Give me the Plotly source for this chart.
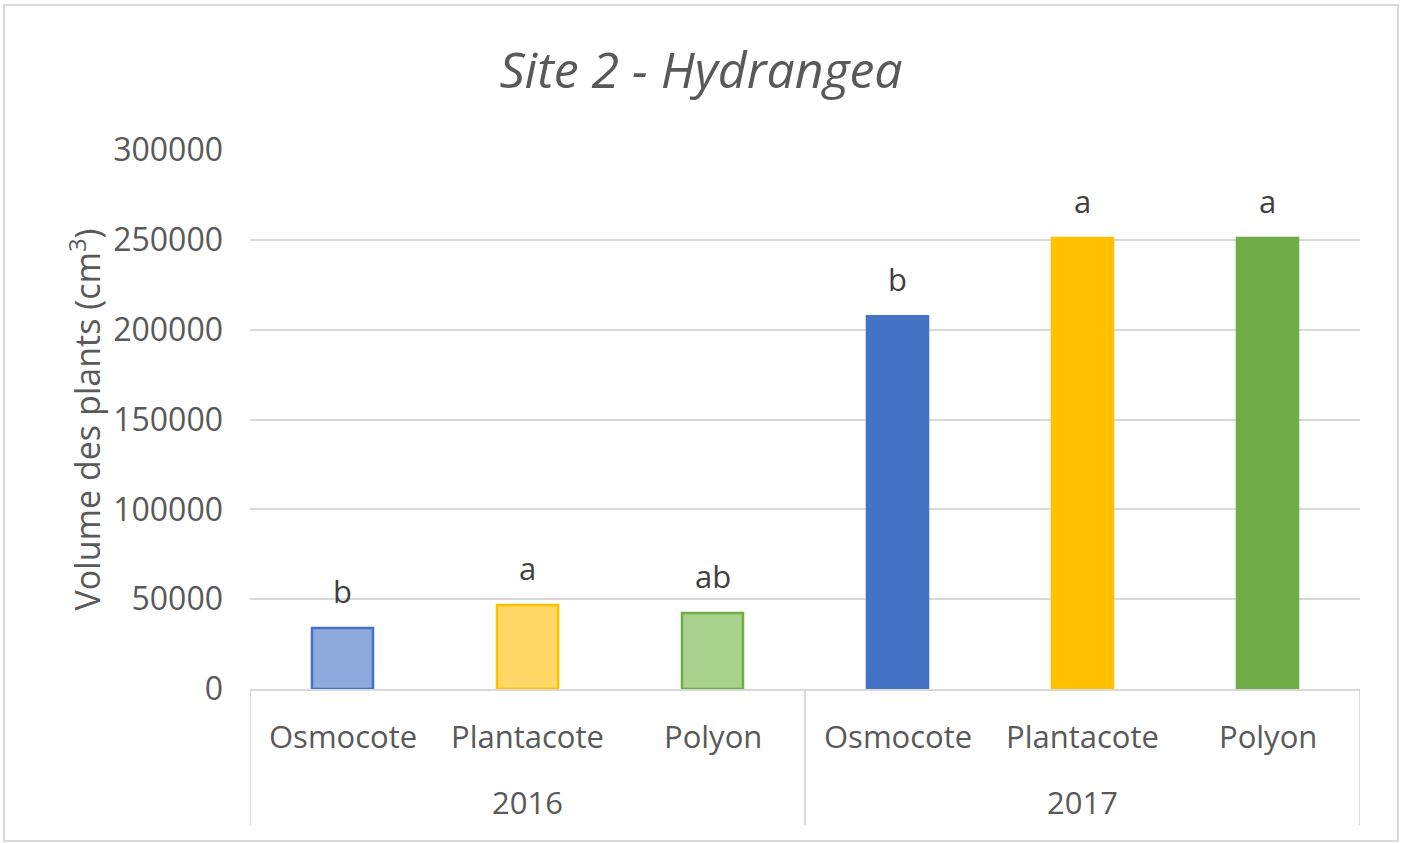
"""Site 2 - Hydrangea: plant volume per fertilizer and year."""

import plotly.graph_objects as go

years = ['2016', '2016', '2016', '2017', '2017', '2017']
treatments = ['Osmocote', 'Plantacote', 'Polyon', 'Osmocote', 'Plantacote', 'Polyon']
volumes = [34000, 46800, 42300, 207500, 251000, 251000]
letters = ['b', 'a', 'ab', 'b', 'a', 'a']

fill_colors = ['#8faadc', '#ffd966', '#a9d18e', '#4472c4', '#ffc000', '#70ad47']
line_colors = ['#4472c4', '#ffc000', '#70ad47', '#4472c4', '#ffc000', '#70ad47']

FONT = 'Open Sans'
GREY = '#595959'
LINE = '#d9d9d9'

W, H = 1402, 843
ML, MR, MT, MB = 250, 42, 150, 154
pw, ph = W - ML - MR, H - MT - MB


def py(page_y):
    """Page pixel row -> paper y (used for the hand-drawn category axis)."""
    return (H - MB - page_y) / ph


fig = go.Figure(
    go.Bar(
        x=[years, treatments],
        y=volumes,
        width=0.33,
        marker=dict(color=fill_colors, line=dict(color=line_colors, width=2.5)),
        hoverinfo='x+y',
    )
)

# significance letters over each bar (category index on a multicategory axis)
for i, (v, lt) in enumerate(zip(volumes, letters)):
    fig.add_annotation(
        x=i, y=v, text=lt, showarrow=False,
        yanchor='bottom', yshift=14,
        font=dict(family=FONT, size=31, color='#404040'),
    )

# two-level category labels, Excel style
for i, tr in enumerate(treatments):
    fig.add_annotation(
        x=i, xref='x', y=py(736), yref='paper', text=tr, showarrow=False,
        yanchor='middle', font=dict(family=FONT, size=31, color=GREY),
    )
groups = sorted(set(years))
for g in groups:
    idx = [i for i, y in enumerate(years) if y == g]
    fig.add_annotation(
        x=(idx[0] + idx[-1]) / 2, xref='x', y=py(802), yref='paper', text=g,
        showarrow=False, yanchor='middle',
        font=dict(family=FONT, size=31, color=GREY),
    )

# group dividers below the axis
for b in [-0.5, 2.5, 5.5]:
    fig.add_shape(
        type='line', xref='x', yref='paper', x0=b, x1=b, y0=0, y1=py(825),
        line=dict(color=LINE, width=2),
    )

# light grey frame around the whole chart
fig.add_shape(
    type='rect', xref='paper', yref='paper',
    x0=(4 - ML) / pw, x1=(1398 - ML) / pw,
    y0=py(841), y1=py(5),
    line=dict(color=LINE, width=2),
)

fig.update_layout(
    width=W,
    height=H,
    margin=dict(l=ML, r=MR, t=MT, b=MB),
    plot_bgcolor='white',
    paper_bgcolor='white',
    showlegend=False,
    title=dict(
        text='<i>Site 2 - Hydrangea</i>',
        x=0.5, xref='container', xanchor='center',
        y=1 - 70 / H, yref='container', yanchor='middle',
        font=dict(family=FONT, size=50, color=GREY),
    ),
    font=dict(family=FONT, color=GREY),
)

fig.update_xaxes(
    type='multicategory',
    showline=True,
    linecolor=LINE,
    linewidth=2,
    showticklabels=False,
    showdividers=False,
    showgrid=False,
    ticks='',
    range=[-0.5, 5.5],
)

fig.update_yaxes(
    range=[0, 300000],
    dtick=50000,
    tickformat='d',
    showgrid=True,
    gridcolor=LINE,
    gridwidth=2,
    zeroline=False,
    showline=False,
    ticklabelstandoff=26,
    tickfont=dict(family=FONT, size=32, color=GREY),
    title=dict(
        text='Volume des plants (cm<sup>3</sup>)',
        font=dict(family=FONT, size=34, color=GREY),
        standoff=2,
    ),
)

fig.write_html(
    'out.html',
    config={'displayModeBar': False},
    post_script="document.body.style.margin = '0';",
)
